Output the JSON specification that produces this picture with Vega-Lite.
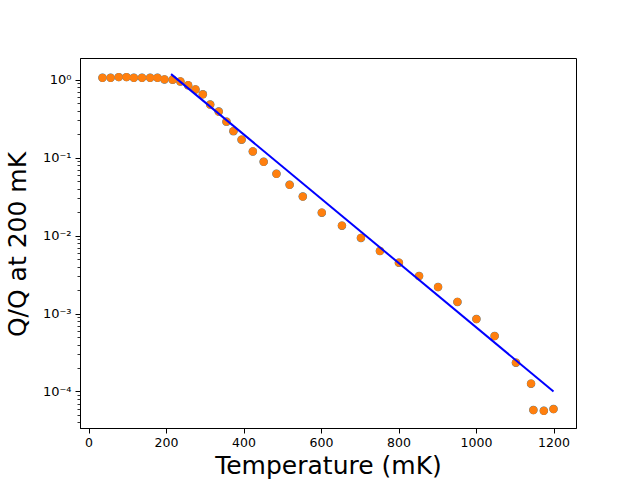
{
  "$schema": "https://vega.github.io/schema/vega-lite/v6.json",
  "width": 496,
  "height": 370,
  "autosize": "none",
  "padding": {"left": 80, "top": 58, "right": 64, "bottom": 52},
  "background": "white",
  "config": {
    "view": {"stroke": "black", "strokeWidth": 1},
    "font": "DejaVu Sans",
    "axis": {
      "grid": false,
      "domainColor": "black",
      "tickColor": "black",
      "labelColor": "black",
      "titleColor": "black",
      "labelFont": "DejaVu Sans",
      "titleFont": "DejaVu Sans",
      "titleFontWeight": "normal"
    }
  },
  "datasets": {
    "measured": [
      {"T": 36, "Q": 1.06},
      {"T": 57, "Q": 1.06},
      {"T": 78, "Q": 1.08},
      {"T": 98, "Q": 1.08},
      {"T": 117, "Q": 1.06},
      {"T": 138, "Q": 1.06},
      {"T": 159, "Q": 1.06},
      {"T": 178, "Q": 1.06},
      {"T": 196, "Q": 1.01},
      {"T": 217, "Q": 1.0},
      {"T": 237, "Q": 0.95},
      {"T": 257, "Q": 0.85},
      {"T": 276, "Q": 0.75},
      {"T": 295, "Q": 0.65},
      {"T": 314, "Q": 0.48},
      {"T": 336, "Q": 0.39},
      {"T": 356, "Q": 0.29},
      {"T": 374, "Q": 0.219},
      {"T": 395, "Q": 0.17},
      {"T": 424, "Q": 0.12},
      {"T": 452, "Q": 0.0885},
      {"T": 485, "Q": 0.062},
      {"T": 519, "Q": 0.0448},
      {"T": 553, "Q": 0.0317},
      {"T": 602, "Q": 0.0197},
      {"T": 654, "Q": 0.0134},
      {"T": 703, "Q": 0.00934},
      {"T": 752, "Q": 0.00635},
      {"T": 801, "Q": 0.0045},
      {"T": 853, "Q": 0.00303},
      {"T": 902, "Q": 0.00219},
      {"T": 952, "Q": 0.00141},
      {"T": 1001, "Q": 0.00085},
      {"T": 1048, "Q": 0.000515},
      {"T": 1103, "Q": 0.000234},
      {"T": 1142, "Q": 0.000126},
      {"T": 1148, "Q": 0.0000577},
      {"T": 1175, "Q": 0.0000565},
      {"T": 1200, "Q": 0.0000594}
    ],
    "fit": [
      {"T": 213, "Q": 1.18},
      {"T": 1200, "Q": 0.0001}
    ]
  },
  "encoding": {
    "x": {
      "field": "T",
      "type": "quantitative",
      "scale": {"domain": [-22, 1258], "nice": false, "zero": false},
      "axis": {
        "values": [0, 200, 400, 600, 800, 1000, 1200],
        "format": "d",
        "labelFontSize": 12.5,
        "tickSize": 5,
        "labelPadding": 3,
        "title": "Temperature (mK)",
        "titleFontSize": 25,
        "titleX": 248,
        "titleY": 45,
        "titleAlign": "center",
        "titleBaseline": "alphabetic"
      }
    }
  },
  "layer": [
    {
      "data": {"name": "measured"},
      "mark": {"type": "point", "filled": true, "opacity": 1, "size": 72, "color": "#1f77b4"},
      "encoding": {
        "y": {
          "field": "Q",
          "type": "quantitative",
          "scale": {"type": "log", "domain": [0.000034, 1.9], "nice": false},
          "axis": {
            "orient": "left",
            "values": [0.0001, 0.001, 0.01, 0.1, 1],
            "labelExpr": "'10' + (datum.value >= 0.5 ? '⁰' : datum.value >= 0.05 ? '⁻¹' : datum.value >= 0.005 ? '⁻²' : datum.value >= 0.0005 ? '⁻³' : '⁻⁴')",
            "labelFontSize": 13,
            "labelPadding": 4,
            "tickSize": 5,
            "title": "Q/Q at 200 mK",
            "titleFontSize": 25,
            "titleAngle": -90,
            "titleX": -55,
            "titleY": 186,
            "titleAlign": "center",
            "titleBaseline": "alphabetic"
          }
        }
      }
    },
    {
      "data": {"name": "measured"},
      "mark": {"type": "point", "filled": true, "opacity": 1, "size": 68, "color": "#ff7f0e"},
      "encoding": {
        "y": {
          "field": "Q",
          "type": "quantitative",
          "axis": {
            "orient": "left",
            "values": [0.00004, 0.00005, 0.00006, 0.00007, 0.00008, 0.00009, 0.0002, 0.0003, 0.0004, 0.0005, 0.0006, 0.0007, 0.0008, 0.0009, 0.002, 0.003, 0.004, 0.005, 0.006, 0.007, 0.008, 0.009, 0.02, 0.03, 0.04, 0.05, 0.06, 0.07, 0.08, 0.09, 0.2, 0.3, 0.4, 0.5, 0.6, 0.7, 0.8, 0.9],
            "labels": false,
            "domain": false,
            "tickSize": 3,
            "tickWidth": 0.8,
            "title": null
          }
        }
      }
    },
    {
      "data": {"name": "fit"},
      "mark": {"type": "line", "color": "#0000ff", "strokeWidth": 2},
      "encoding": {
        "y": {"field": "Q", "type": "quantitative", "axis": null}
      }
    }
  ],
  "resolve": {"axis": {"y": "independent"}}
}
